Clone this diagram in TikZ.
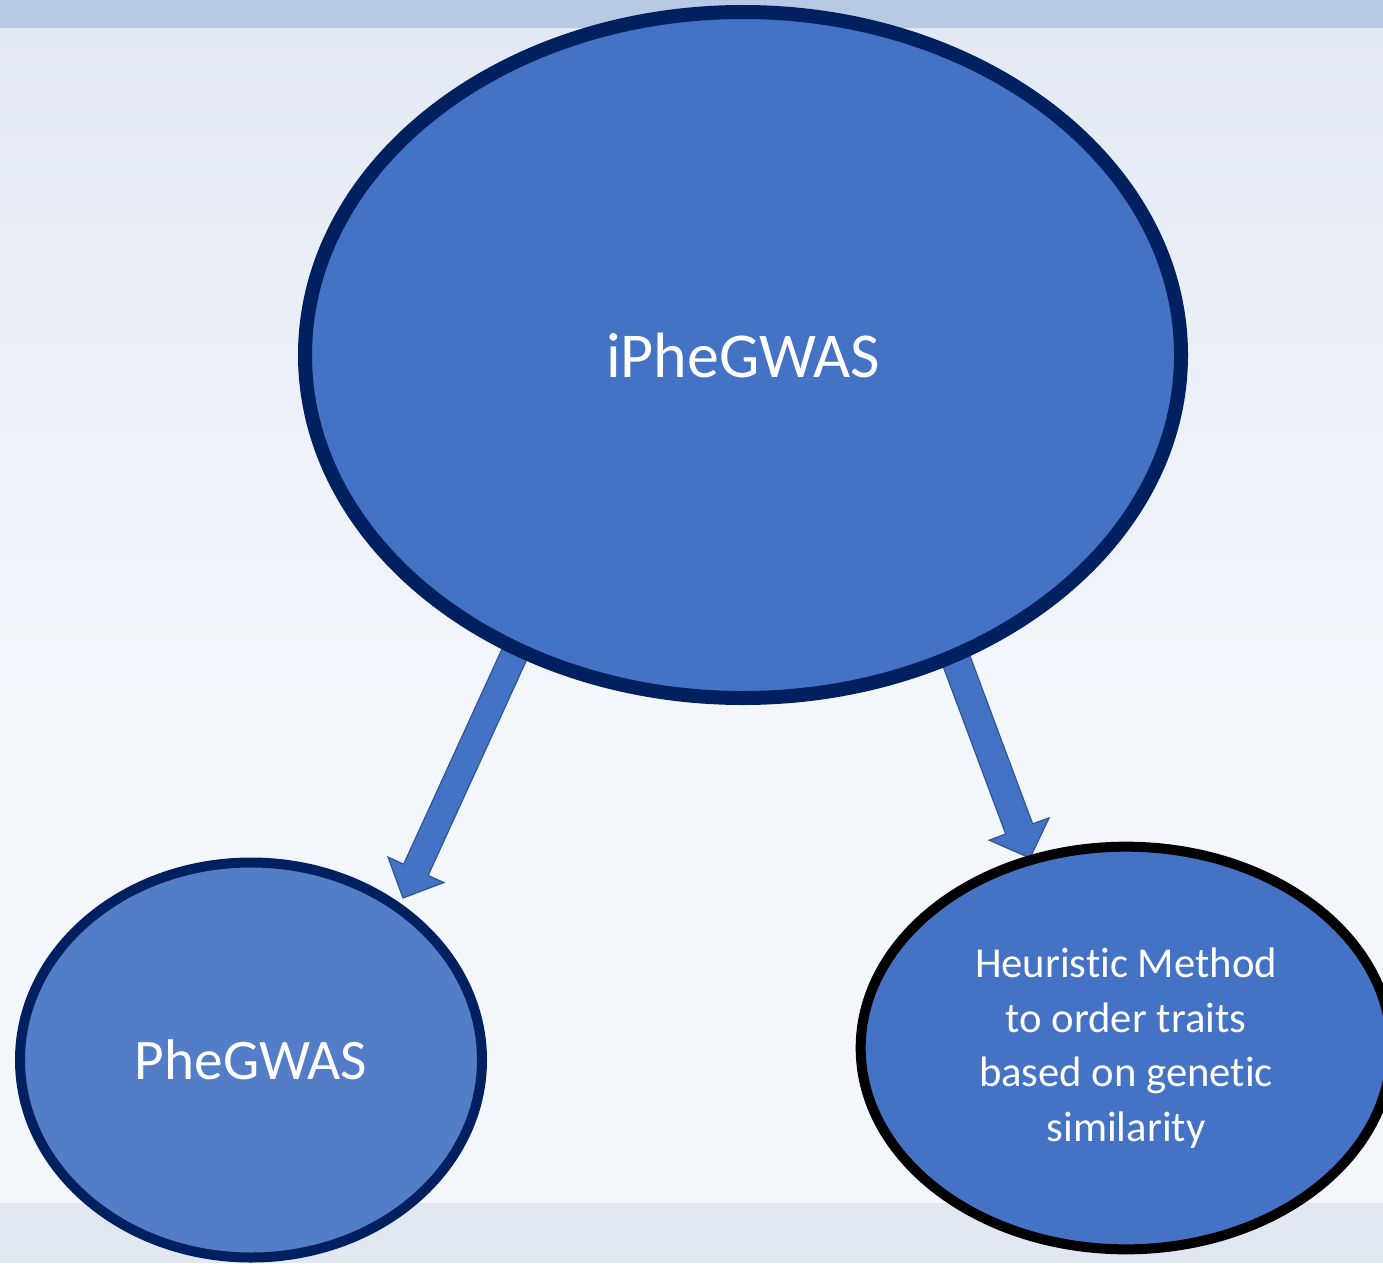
\documentclass[tikz,border=0pt]{standalone}
\usepackage{fontspec}
\setmainfont{Carlito}[Ligatures=NoCommon]
\usepackage{tikz}
\usetikzlibrary{calc,shapes.geometric,positioning}

\definecolor{bubble}{HTML}{4472C4}
\definecolor{bubblelight}{HTML}{547DC8}
\definecolor{navy}{HTML}{002060}
\definecolor{arrowline}{HTML}{2F5597}
\definecolor{bandtop}{HTML}{B8C9E3}
\definecolor{bandbot}{HTML}{E2E8F2}
\definecolor{paperhi}{HTML}{E3E9F4}
\definecolor{paperlo}{HTML}{F3F6FB}

\pgfdeclarelayer{paper}
\pgfdeclarelayer{arrows}
\pgfsetlayers{paper,arrows,main}

\begin{document}
\begin{tikzpicture}[
      x=0.75pt, y=-0.75pt,
      bubble/.style={ellipse, draw=navy, fill=bubble, inner sep=0pt,
                     text=white, align=center},
      blockarrow/.style={fill=bubble, draw=arrowline, line width=0.9pt,
                         line join=miter},
      big/.style={font=\fontsize{48}{58}\selectfont},
      mid/.style={font=\fontsize{43}{52}\selectfont},
      small/.style={font=\fontsize{32}{41}\selectfont}
    ]
    \useasboundingbox (0,0) rectangle (1383,1263);
    \clip (0,0) rectangle (1383,1263);

    \node[bubble, big, line width=10.5pt, minimum width=657pt, minimum height=514.5pt]
         (iphe) at (743,355) {iPheGWAS};
    \node[bubble, mid, fill=bubblelight, line width=7.5pt,
          minimum width=346.5pt, minimum height=296.25pt]
         (phe) at (251,1060) {PheGWAS};
    \node[bubble, small, draw=black, line width=7.5pt,
          minimum width=398pt, minimum height=302pt]
         (heur) at (1126,1048) {Heuristic Method\\ to order traits\\ based on genetic\\ similarity};

    % block arrows, tucked under the top bubble
    \coordinate (lstart) at (520,642);
    \coordinate (ltip)   at (403,898);
    \coordinate (rstart) at (952,649);
    \coordinate (rtip)   at (1030,858);
    \begin{pgfonlayer}{arrows}
      \coordinate (lhead) at ($(ltip)!23.25pt!(lstart)$);
      \draw[blockarrow] ($(lstart)!10.1pt!90:(ltip)$) -- ($(lhead)!10.1pt!90:(ltip)$)
            -- ($(lhead)!23pt!90:(ltip)$) -- (ltip) -- ($(lhead)!23pt!-90:(ltip)$)
            -- ($(lhead)!10.1pt!-90:(ltip)$) -- ($(lstart)!10.1pt!-90:(ltip)$) -- cycle;
      \coordinate (rhead) at ($(rtip)!23.25pt!(rstart)$);
      \draw[blockarrow] ($(rstart)!10.8pt!90:(rtip)$) -- ($(rhead)!10.8pt!90:(rtip)$)
            -- ($(rhead)!24pt!90:(rtip)$) -- (rtip) -- ($(rhead)!24pt!-90:(rtip)$)
            -- ($(rhead)!10.8pt!-90:(rtip)$) -- ($(rstart)!10.8pt!-90:(rtip)$) -- cycle;
    \end{pgfonlayer}

    % slide background
    \begin{pgfonlayer}{paper}
      \shade[top color=paperhi, bottom color=paperlo] (0,28) rectangle (1383,700);
      \fill[paperlo] (0,699) rectangle (1383,1203);
      \fill[bandtop] (0,0) rectangle (1383,28);
      \fill[bandbot] (0,1203) rectangle (1383,1263);
    \end{pgfonlayer}
\end{tikzpicture}
\end{document}
